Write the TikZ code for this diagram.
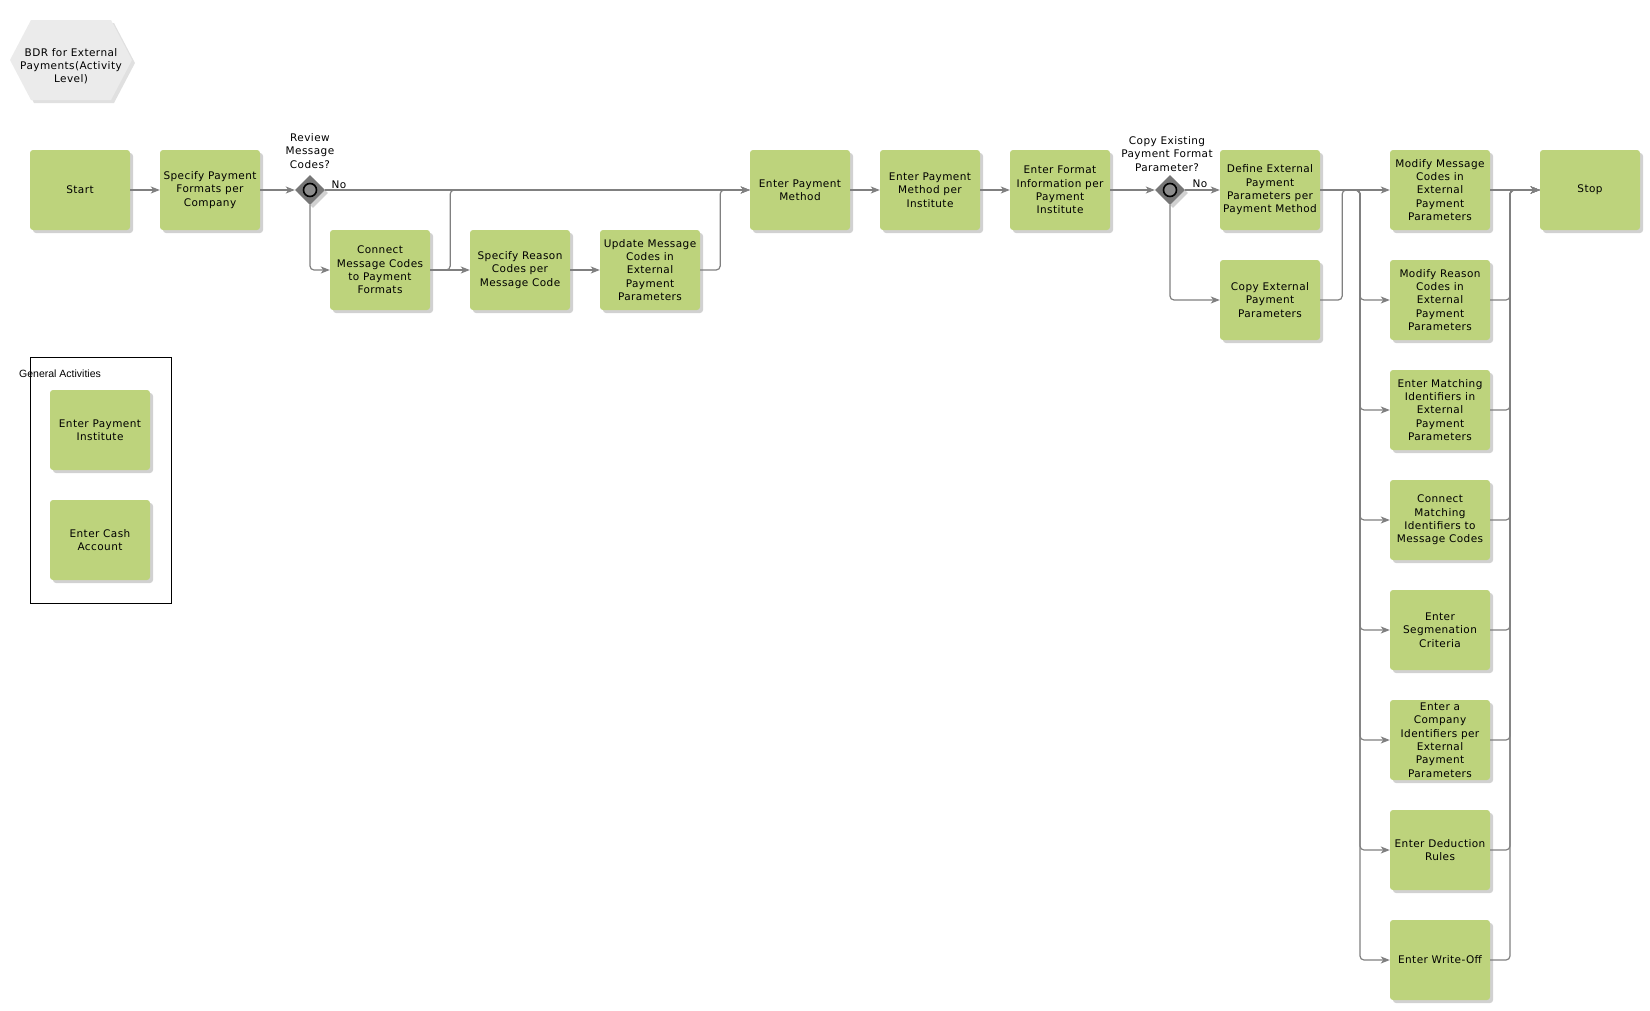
\documentclass[tikz,border=0pt]{standalone}
\usepackage{fontspec}
\setmainfont{DejaVu Sans}[LetterSpace=4]
\newfontfamily\labelfont{Liberation Sans}
\usepackage{xcolor}
\usepackage{tikz}
\usetikzlibrary{arrows.meta,shapes.geometric,shadows}
\definecolor{actgreen}{RGB}{189,211,124}
\definecolor{flowgray}{RGB}{128,128,128}
\definecolor{gategray}{RGB}{118,118,118}
\definecolor{ringgray}{RGB}{140,140,140}
\definecolor{hexgray}{RGB}{235,235,235}

\begin{document}
\begin{tikzpicture}[x=1pt,y=-1pt,font=\fontsize{10.5}{13.3}\selectfont,>={Stealth[length=9pt,width=7pt,inset=2.5pt]},
  act/.style={rectangle,rounded corners=3pt,fill=actgreen,minimum width=100pt,minimum height=80pt,inner sep=1pt,align=center,
    drop shadow={shadow xshift=3pt,shadow yshift=-3pt,fill=black,opacity=0.18}},
  gate/.style={diamond,fill=gategray,minimum size=30pt,inner sep=0pt,
    drop shadow={shadow xshift=3pt,shadow yshift=-3pt,fill=black,opacity=0.18}},
  ring/.style={circle,draw=black,line width=1.6pt,fill=ringgray,minimum size=13pt,inner sep=0pt},
  flow/.style={draw=flowgray,line width=1.2pt,rounded corners=4pt,->},
  link/.style={draw=flowgray,line width=1.2pt,rounded corners=4pt}]
  \useasboundingbox (0,0) rectangle (1650,1010);
  % title
  \fill[hexgray,drop shadow={shadow xshift=3pt,shadow yshift=-3pt,fill=black,opacity=0.12}]
    (10,60) -- (31,20) -- (111,20) -- (132,60) -- (111,100) -- (31,100) -- cycle;
  \node[align=center] (title) at (71,66) {BDR for External\\Payments(Activity\\Level)};
  % main row
  \node[act] (start) at (80,190) {Start};
  \node[act] (spec) at (210,190) {Specify Payment\\Formats per\\Company};
  \node[gate] (d1) at (310,190) {};
  \node[ring] (d1ring) at (d1) {};
  \node[align=center] (q1) at (310,151) {Review\\Message\\Codes?};
  \node (no1) at (339,185) {No};
  \node[act] (conn) at (380,270) {Connect\\Message Codes\\to Payment\\Formats};
  \node[act] (reason) at (520,270) {Specify Reason\\Codes per\\Message Code};
  \node[act] (upd) at (650,270) {Update Message\\Codes in\\External\\Payment\\Parameters};
  \node[act] (epm) at (800,190) {Enter Payment\\Method};
  \node[act] (epmi) at (930,190) {Enter Payment\\Method per\\Institute};
  \node[act] (efi) at (1060,190) {Enter Format\\Information per\\Payment\\Institute};
  \node[gate] (d2) at (1170,190) {};
  \node[ring] (d2ring) at (d2) {};
  \node[align=center] (q2) at (1167,154) {Copy Existing\\Payment Format\\Parameter?};
  \node (no2) at (1200,184) {No};
  \node[act] (def) at (1270,190) {Define External\\Payment\\Parameters per\\Payment Method};
  \node[act] (copy) at (1270,300) {Copy External\\Payment\\Parameters};
  % parallel column
  \node[act] (mm) at (1440,190) {Modify Message\\Codes in\\External\\Payment\\Parameters};
  \node[act] (mr) at (1440,300) {Modify Reason\\Codes in\\External\\Payment\\Parameters};
  \node[act] (emi) at (1440,410) {Enter Matching\\Identifiers in\\External\\Payment\\Parameters};
  \node[act] (cmi) at (1440,520) {Connect\\Matching\\Identifiers to\\Message Codes};
  \node[act] (seg) at (1440,630) {Enter\\Segmenation\\Criteria};
  \node[act] (cid) at (1440,740) {Enter a\\Company\\Identifiers per\\External\\Payment\\Parameters};
  \node[act] (ded) at (1440,850) {Enter Deduction\\Rules};
  \node[act] (wo) at (1440,960) {Enter Write-Off};
  \node[act] (stop) at (1590,190) {Stop};
  \coordinate (split) at (1360,190);
  \coordinate (merge) at (1510,190);
  % general activities
  \draw[line width=0.8pt] (30,357) rectangle (171,603);
  \node[font=\labelfont\fontsize{10.5}{12}\selectfont,anchor=west,inner sep=0pt] (genlabel) at (19,374) {General Activities};
  \node[act] (inst) at (100,430) {Enter Payment\\Institute};
  \node[act] (cash) at (100,540) {Enter Cash\\Account};
  % connectors
  \draw[flow] (start) -- (spec);  \draw[flow] (spec) -- (d1);
  \draw[flow] (d1.east) -- (epm.west);  \draw[flow] (d1.south) |- (conn.west);
  \draw[flow] (conn) -- (reason);  \draw[flow] (reason) -- (upd);
  \draw[flow] (conn.east) -- ++(20,0) |- (epm.west);
  \draw[flow] (upd.east) -- ++(20,0) |- (epm.west);
  \draw[flow] (epm) -- (epmi);  \draw[flow] (epmi) -- (efi);
  \draw[flow] (efi) -- (d2);  \draw[flow] (d2.east) -- (def.west);
  \draw[flow] (d2.south) |- (copy.west);
  \draw[link] (copy.east) -- ++(22,0) |- (split);
  \draw[flow] (def.east) -- (mm.west);
  \draw[flow] (def.east) -- (split) |- (mr.west);   \draw[flow] (def.east) -- (split) |- (emi.west);
  \draw[flow] (def.east) -- (split) |- (cmi.west);  \draw[flow] (def.east) -- (split) |- (seg.west);
  \draw[flow] (def.east) -- (split) |- (cid.west);  \draw[flow] (def.east) -- (split) |- (ded.west);
  \draw[flow] (def.east) -- (split) |- (wo.west);
  \draw[flow] (mm.east) -- (stop.west);
  \draw[flow] (mr.east) -| (merge) -- (stop.west);   \draw[flow] (emi.east) -| (merge) -- (stop.west);
  \draw[flow] (cmi.east) -| (merge) -- (stop.west);  \draw[flow] (seg.east) -| (merge) -- (stop.west);
  \draw[flow] (cid.east) -| (merge) -- (stop.west);  \draw[flow] (ded.east) -| (merge) -- (stop.west);
  \draw[flow] (wo.east) -| (merge) -- (stop.west);
\end{tikzpicture}
\end{document}
